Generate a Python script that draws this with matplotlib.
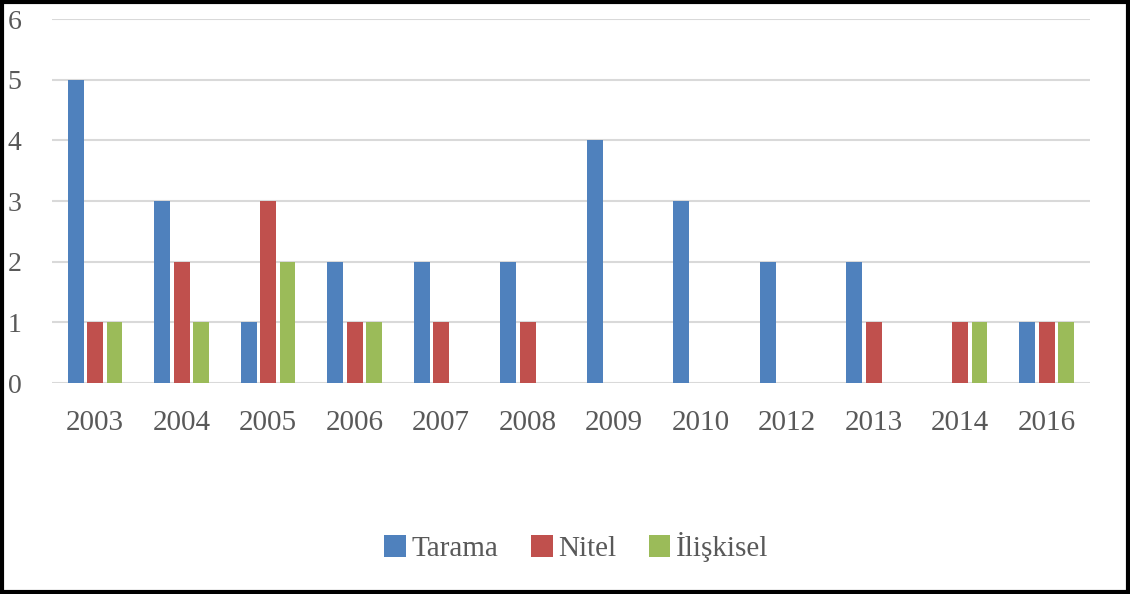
import matplotlib.pyplot as plt
import numpy as np
from matplotlib.patches import Rectangle

years = ['2003', '2004', '2005', '2006', '2007', '2008', '2009', '2010', '2012', '2013', '2014', '2016']
tarama = [5, 3, 1, 2, 2, 2, 4, 3, 2, 2, 0, 1]
nitel = [1, 2, 3, 1, 1, 1, 0, 0, 0, 1, 1, 1]
iliskisel = [1, 1, 2, 1, 0, 0, 0, 0, 0, 0, 1, 1]

plt.rcParams['font.family'] = ['Liberation Serif', 'DejaVu Serif']

fig = plt.figure(figsize=(11.3, 5.94), dpi=100)
ax = fig.add_axes([0.046, 0.355, 0.9186, 0.613])

x = np.arange(len(years))
step = 0.225
w = 0.18
ax.bar(x - step, tarama, w, color='#4F81BD', linewidth=0, label='Tarama', zorder=3)
ax.bar(x, nitel, w, color='#C0504D', linewidth=0, label='Nitel', zorder=3)
ax.bar(x + step, iliskisel, w, color='#9BBB59', linewidth=0, label='İlişkisel', zorder=3)

ax.set_xlim(-0.5, len(years) - 0.5)
ax.set_ylim(0, 6)
ax.set_yticks(range(7))
ax.yaxis.grid(True, color='#d9d9d9', linewidth=1.5, zorder=0)
for s in ax.spines.values():
    s.set_visible(False)
ax.set_xticks(x)
ax.set_xticklabels(years)
ax.tick_params(axis='x', length=0, pad=19, labelsize=21, labelcolor='#595959')
ax.tick_params(axis='y', length=0, pad=32, labelsize=20, labelcolor='#595959')
for t in ax.get_yticklabels():
    t.set_horizontalalignment('left')

fig.legend(loc='center', bbox_to_anchor=(0.51, 0.079), ncol=3, frameon=False,
           handlelength=0.75, handleheight=0.75, handletextpad=0.2, columnspacing=1.1,
           prop={'size': 21}, labelcolor='#595959')

fig.patches.append(Rectangle((0.002, 0.003), 0.996, 0.994, transform=fig.transFigure,
                             fill=False, edgecolor='black', linewidth=3))

plt.savefig('out.png')
